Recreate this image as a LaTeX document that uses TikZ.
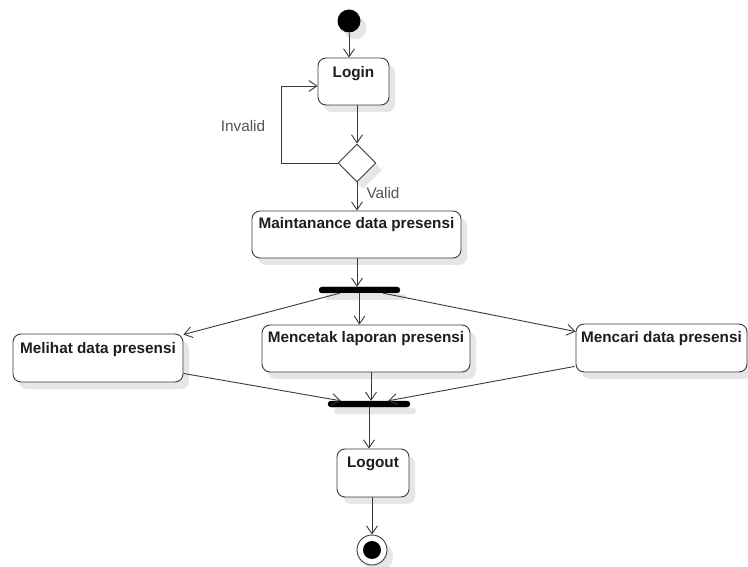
\documentclass[tikz,border=0pt]{standalone}
\usepackage{fontspec}
\setmainfont{Liberation Sans}
\usetikzlibrary{arrows.meta,shapes.geometric,shadows}
\definecolor{lineC}{HTML}{3A3A3A}
\definecolor{textC}{HTML}{1E1E1E}
\definecolor{lblC}{HTML}{555555}
\definecolor{shadC}{HTML}{E6E6E6}
\tikzset{
  shad/.style={drop shadow={shadow xshift=6pt, shadow yshift=-7pt, fill=shadC, opacity=1}},
  actbox/.style={draw=lineC, line width=0.9pt, fill=white, rounded corners=8pt, shad, inner sep=0pt},
  acttext/.style={font=\fontsize{15.3}{17}\selectfont\bfseries, text=textC, anchor=north, inner sep=0pt},
  bar/.style={fill=black, draw=black, rounded corners=3pt, inner sep=0pt, minimum height=6pt, shad},
  flow/.style={draw=lineC, line width=0.9pt, -{Straight Barb[length=8pt,width=11pt,line width=0.9pt]}},
  lbl/.style={font=\fontsize{15.3}{17}\selectfont, text=lblC, inner sep=0pt}
}
\begin{document}
\begin{tikzpicture}[x=1pt,y=-1pt]
\useasboundingbox[fill=white] (0,0) rectangle (748,567);
% start
\node[circle, fill=black, minimum size=23pt, inner sep=0pt, shad] (start) at (349,21) {};
% activities
\node[actbox, minimum width=71pt, minimum height=47pt] (login) at (353.5,81.5) {};
\node[acttext] at ([yshift=-9pt]login.north) {Login};
\node[diamond, draw=lineC, line width=0.9pt, fill=white, minimum width=38pt, minimum height=38pt, inner sep=0pt, shad] (dec) at (357,163) {};
\node[actbox, minimum width=209pt, minimum height=47pt] (maint) at (356.5,234.5) {};
\node[acttext] at ([yshift=-7pt]maint.north) {Maintanance data presensi};
\node[bar, minimum width=81pt] (fork) at (359.5,290) {};
\node[actbox, minimum width=170pt, minimum height=48pt] (melihat) at (98,358) {};
\node[acttext] at ([yshift=-9pt]melihat.north) {Melihat data presensi};
\node[actbox, minimum width=208pt, minimum height=47pt] (cetak) at (366,348.5) {};
\node[acttext] at ([yshift=-7pt]cetak.north) {Mencetak laporan presensi};
\node[actbox, minimum width=171pt, minimum height=48pt] (cari) at (661.5,348) {};
\node[acttext] at ([yshift=-8pt]cari.north) {Mencari data presensi};
\node[bar, minimum width=82pt] (join) at (369,404) {};
\node[actbox, minimum width=72pt, minimum height=48pt] (logout) at (373,473) {};
\node[acttext] at ([yshift=-8pt]logout.north) {Logout};
% end
\node[circle, draw=lineC, line width=0.9pt, fill=white, minimum size=30pt, inner sep=0pt, shad] (end) at (372,550) {};
\node[circle, fill=black, minimum size=18pt, inner sep=0pt] (endin) at (end) {};
% flows
\draw[flow] (start) -- (start |- login.north);
\draw[flow] (dec.north |- login.south) -- (dec.north);
\coordinate (loopc) at (281,163);
\draw[flow] (dec.west) -- (loopc) |- ([yshift=-4.5pt]login.west);
\draw[flow] (dec.south) -- (dec.south |- maint.north);
\draw[flow] (dec.south |- maint.south) -- (dec.south |- fork.north);
\draw[flow] ([xshift=21pt]fork.south west) -- ([yshift=-1pt]melihat.north east);
\draw[flow] (fork.south) -- (fork.south |- cetak.north);
\draw[flow] ([xshift=-17pt]fork.south east) -- ([yshift=-8pt]cari.north west);
\draw[flow] ([yshift=9pt]melihat.south east) -- ([xshift=13pt]join.north west);
\draw[flow] ([xshift=5pt]cetak.south) -- ([xshift=5pt]cetak.south |- join.north);
\draw[flow] ([yshift=6pt,xshift=-1pt]cari.south west) -- ([xshift=-22pt]join.north east);
\draw[flow] (join.south) -- (join.south |- logout.north);
\draw[flow] (end.north |- logout.south) -- (end.north);
% labels
\node[lbl] at (243,126) {Invalid};
\node[lbl] at (383,193) {Valid};
\end{tikzpicture}
\end{document}
